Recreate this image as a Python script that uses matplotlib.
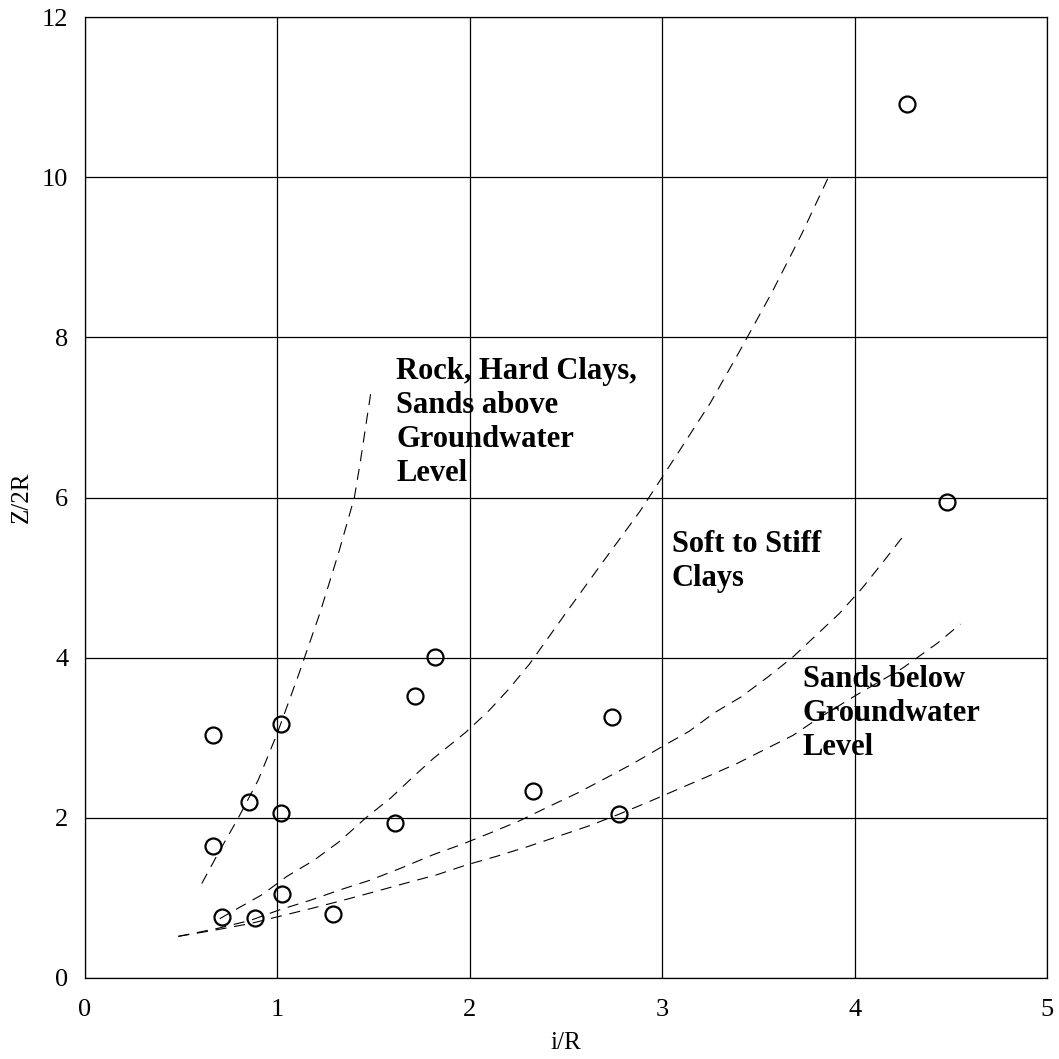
# Settlement trough width vs. depth (i/R against Z/2R)
import matplotlib
matplotlib.use("Agg")
import matplotlib.pyplot as plt

# measured points (circles)
pts_x = [0.665, 0.667, 0.71, 0.85, 0.884, 1.02, 1.02, 1.022, 1.29, 1.61, 1.715, 1.82, 2.33, 2.74, 2.775, 4.27, 4.48]
pts_y = [3.03, 1.65, 0.765, 2.20, 0.745, 3.17, 2.06, 1.05, 0.80, 1.93, 3.52, 4.01, 2.34, 3.26, 2.05, 10.91, 5.95]

# dashed trend curves
rock_x = [0.607, 0.693, 0.797, 0.90, 1.0, 1.112, 1.22, 1.317, 1.40, 1.43, 1.485]
rock_y = [1.18, 1.56, 2.0, 2.47, 3.06, 3.80, 4.55, 5.30, 6.0, 6.43, 7.30]

clay_x = [0.70, 0.78, 0.92, 1.05, 1.19, 1.32, 1.46, 1.59, 1.70, 1.81, 1.98, 2.10, 2.20,
          2.31, 2.50, 2.69, 2.885, 3.075, 3.25, 3.41, 3.57, 3.725, 3.86]
clay_y = [0.74, 0.85, 1.04, 1.27, 1.47, 1.70, 2.00, 2.25, 2.50, 2.74, 3.07, 3.34, 3.60,
          3.92, 4.56, 5.19, 5.83, 6.53, 7.18, 7.86, 8.56, 9.29, 9.98]

sand_a_x = [0.485, 0.69, 0.86, 1.01, 1.17, 1.325, 1.48, 1.64, 1.81, 1.96, 2.105, 2.256, 2.41, 2.56,
            2.71, 2.85, 3.0, 3.14, 3.27, 3.41, 3.55, 3.68, 3.80, 3.92, 4.04, 4.14, 4.27]
sand_a_y = [0.52, 0.62, 0.72, 0.85, 0.97, 1.10, 1.22, 1.37, 1.54, 1.67, 1.81, 1.96, 2.14, 2.31,
            2.50, 2.68, 2.89, 3.08, 3.31, 3.51, 3.76, 4.01, 4.28, 4.55, 4.87, 5.17, 5.57]

sand_b_x = [0.485, 0.68, 0.86, 1.01, 1.18, 1.34, 1.51, 1.66, 1.83, 1.98, 2.14, 2.30, 2.46, 2.62,
            2.77, 2.93, 3.075, 3.23, 3.39, 3.53, 3.68, 3.81, 4.0, 4.25, 4.43, 4.55]
sand_b_y = [0.52, 0.60, 0.68, 0.77, 0.87, 0.97, 1.08, 1.18, 1.29, 1.41, 1.52, 1.64, 1.77, 1.90,
            2.04, 2.20, 2.35, 2.51, 2.68, 2.85, 3.03, 3.24, 3.52, 3.87, 4.18, 4.42]

x_ticks = [0, 1, 2, 3, 4, 5]
y_ticks = [0, 2, 4, 6, 8, 10, 12]

plt.rcParams["font.family"] = ["Liberation Serif", "DejaVu Serif"]

fig = plt.figure(figsize=(10.59, 10.59), dpi=100)
ax = fig.add_axes([85 / 1059, 81 / 1059, 962 / 1059, 961 / 1059])

dash = (0, (10, 7))
for cx, cy in [(rock_x, rock_y), (clay_x, clay_y), (sand_a_x, sand_a_y), (sand_b_x, sand_b_y)]:
    ax.plot(cx, cy, color="black", lw=0.8, linestyle=dash, zorder=2)

ax.plot(pts_x, pts_y, linestyle="none", marker="o", markersize=11.5,
        markerfacecolor="none", markeredgecolor="black", markeredgewidth=1.6, zorder=3)

ax.set_xlim(0, 5)
ax.set_ylim(0, 12)
ax.set_xticks(x_ticks)
ax.set_yticks(y_ticks)
ax.tick_params(length=0, labelsize=19, pad=12)
ax.tick_params(axis="x", pad=15)
ax.grid(True, color="black", lw=0.9)
ax.set_axisbelow(True)
for s in ax.spines.values():
    s.set_linewidth(0.9)

ax.set_xlabel("i/R", fontsize=18)
ax.set_ylabel("Z/2R", fontsize=18)
ax.xaxis.label.set_va("center")
ax.yaxis.label.set_va("center")
ax.xaxis.set_label_coords(0.5, -0.0676)
ax.yaxis.set_label_coords(-0.0658, 0.5)

# baseline anchors the last line of each block
txt = dict(fontsize=22, fontweight="bold", va="baseline", ha="left", linespacing=1.23)
ax.text(1.617, 6.20, "Rock, Hard Clays,\nSands above\nGroundwater\nLevel", **txt)
ax.text(3.05, 4.89, "Soft to Stiff\nClays", **txt)
ax.text(3.73, 2.785, "Sands below\nGroundwater\nLevel", **txt)

fig.savefig("out.png", dpi=100)
